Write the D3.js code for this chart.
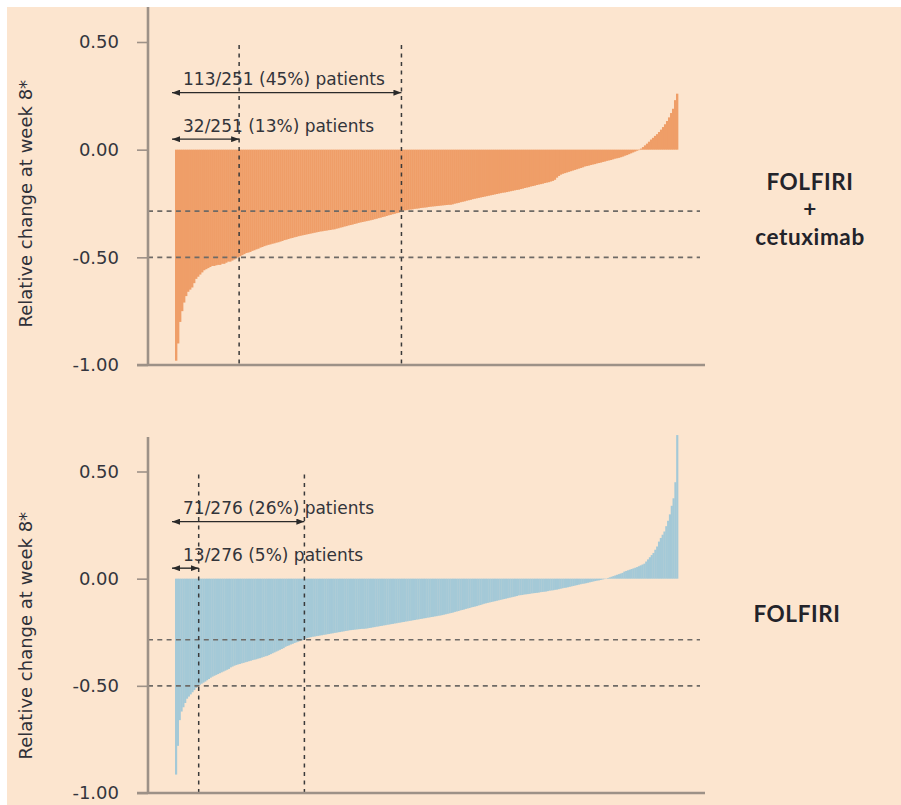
<!DOCTYPE html>
<html>
<head>
<meta charset="utf-8">
<script src="https://cdn.jsdelivr.net/npm/d3@7"></script>
<style>
  html, body { margin: 0; padding: 0; background: #ffffff; }
  svg { display: block; }
</style>
</head>
<body>
<script>
// Relative tumour-size change at week 8, one bar per patient, sorted ascending.
const fcValues = [
  -0.98,-0.90,-0.80,-0.75,-0.71,-0.68,-0.66,-0.65,-0.64,-0.62,
  -0.60,-0.59,-0.58,-0.57,-0.56,-0.555,-0.55,-0.545,-0.54,-0.54,
  -0.537,-0.535,-0.535,-0.53,-0.53,-0.525,-0.52,-0.52,-0.515,-0.51,
  -0.505,-0.50,-0.495,-0.49,-0.485,-0.48,-0.478,-0.475,-0.47,-0.467,
  -0.463,-0.46,-0.455,-0.452,-0.448,-0.445,-0.442,-0.44,-0.437,-0.435,
  -0.432,-0.43,-0.427,-0.424,-0.42,-0.418,-0.415,-0.412,-0.41,-0.407,
  -0.405,-0.402,-0.40,-0.398,-0.396,-0.394,-0.392,-0.39,-0.388,-0.386,
  -0.384,-0.382,-0.38,-0.379,-0.377,-0.376,-0.374,-0.373,-0.371,-0.37,
  -0.367,-0.365,-0.362,-0.36,-0.357,-0.355,-0.352,-0.35,-0.348,-0.345,
  -0.343,-0.34,-0.338,-0.336,-0.334,-0.332,-0.33,-0.328,-0.326,-0.323,
  -0.321,-0.318,-0.316,-0.313,-0.311,-0.308,-0.305,-0.303,-0.300,-0.298,
  -0.295,-0.293,-0.290,-0.284,-0.282,-0.281,-0.279,-0.278,-0.277,-0.275,
  -0.274,-0.273,-0.271,-0.270,-0.269,-0.268,-0.266,-0.265,-0.264,-0.263,
  -0.262,-0.261,-0.26,-0.259,-0.258,-0.257,-0.256,-0.256,-0.254,-0.251,
  -0.249,-0.247,-0.244,-0.242,-0.24,-0.237,-0.235,-0.233,-0.23,-0.228,
  -0.226,-0.224,-0.222,-0.22,-0.218,-0.216,-0.214,-0.212,-0.21,-0.208,
  -0.206,-0.204,-0.202,-0.2,-0.199,-0.197,-0.195,-0.193,-0.191,-0.189,
  -0.187,-0.186,-0.183,-0.181,-0.178,-0.176,-0.174,-0.171,-0.169,-0.167,
  -0.164,-0.162,-0.16,-0.158,-0.155,-0.153,-0.151,-0.148,-0.145,-0.14,
  -0.13,-0.122,-0.116,-0.112,-0.109,-0.106,-0.103,-0.1,-0.097,-0.094,
  -0.091,-0.088,-0.085,-0.082,-0.078,-0.076,-0.074,-0.071,-0.069,-0.067,
  -0.064,-0.062,-0.06,-0.057,-0.055,-0.052,-0.05,-0.048,-0.045,-0.042,
  -0.04,-0.038,-0.035,-0.032,-0.028,-0.025,-0.021,-0.017,-0.013,-0.009,
  -0.005,-0.002,0.005,0.012,0.02,0.028,0.037,0.047,0.055,0.064,
  0.072,0.082,0.093,0.105,0.118,0.133,0.15,0.17,0.19,0.23,
  0.26
];

const fValues = [
  -0.914,-0.78,-0.66,-0.62,-0.60,-0.58,-0.56,-0.55,-0.54,-0.53,
  -0.52,-0.51,-0.50,-0.495,-0.49,-0.485,-0.48,-0.474,-0.468,-0.462,
  -0.457,-0.453,-0.449,-0.445,-0.441,-0.437,-0.433,-0.429,-0.425,-0.421,
  -0.414,-0.41,-0.406,-0.403,-0.400,-0.398,-0.395,-0.393,-0.390,-0.388,
  -0.385,-0.383,-0.380,-0.378,-0.376,-0.373,-0.371,-0.368,-0.365,-0.362,
  -0.36,-0.356,-0.352,-0.348,-0.344,-0.34,-0.336,-0.332,-0.328,-0.324,
  -0.318,-0.314,-0.311,-0.307,-0.304,-0.300,-0.297,-0.294,-0.291,-0.288,
  -0.286,-0.280,-0.277,-0.275,-0.273,-0.271,-0.27,-0.268,-0.267,-0.265,
  -0.264,-0.262,-0.261,-0.259,-0.258,-0.256,-0.255,-0.253,-0.252,-0.25,
  -0.249,-0.247,-0.246,-0.244,-0.243,-0.241,-0.24,-0.239,-0.238,-0.237,
  -0.236,-0.235,-0.234,-0.234,-0.233,-0.232,-0.23,-0.229,-0.227,-0.226,
  -0.224,-0.223,-0.221,-0.22,-0.218,-0.217,-0.215,-0.214,-0.212,-0.211,
  -0.209,-0.208,-0.206,-0.205,-0.203,-0.202,-0.2,-0.199,-0.197,-0.196,
  -0.194,-0.193,-0.191,-0.19,-0.188,-0.187,-0.185,-0.184,-0.182,-0.181,
  -0.179,-0.178,-0.176,-0.175,-0.173,-0.172,-0.17,-0.168,-0.166,-0.164,
  -0.162,-0.16,-0.158,-0.155,-0.153,-0.151,-0.148,-0.146,-0.144,-0.141,
  -0.139,-0.137,-0.134,-0.132,-0.13,-0.128,-0.125,-0.123,-0.12,-0.117,
  -0.115,-0.113,-0.111,-0.109,-0.107,-0.105,-0.103,-0.101,-0.099,-0.097,
  -0.095,-0.093,-0.091,-0.089,-0.087,-0.085,-0.083,-0.081,-0.078,-0.077,
  -0.076,-0.074,-0.073,-0.072,-0.071,-0.069,-0.068,-0.067,-0.066,-0.065,
  -0.063,-0.062,-0.061,-0.06,-0.058,-0.056,-0.055,-0.054,-0.052,-0.051,
  -0.049,-0.047,-0.045,-0.043,-0.042,-0.04,-0.038,-0.036,-0.034,-0.032,
  -0.03,-0.028,-0.026,-0.024,-0.023,-0.021,-0.019,-0.017,-0.015,-0.013,
  -0.011,-0.009,-0.008,-0.006,-0.004,-0.002,-0.001,0.003,0.006,0.009,
  0.012,0.015,0.018,0.021,0.024,0.027,0.033,0.036,0.039,0.042,
  0.045,0.048,0.051,0.054,0.058,0.062,0.066,0.07,0.08,0.09,
  0.1,0.11,0.12,0.135,0.15,0.173,0.19,0.205,0.22,0.245,
  0.27,0.30,0.34,0.375,0.45,0.67
];

// Reference lines: tumour shrinkage cut-offs
const cutoffs = [-0.285, -0.5];
// Patients at or beyond each cut-off
const fcCounts = [113, 32];
const fCounts = [71, 13];
const tickValues = [-1, -0.5, 0, 0.5];
const fcArmLabel = ["FOLFIRI", "+", "cetuximab"];
const fArmLabel = ["FOLFIRI"];
const yAxisTitle = "Relative change at week 8*";

const W = 901, H = 805;
const svg = d3.select("body").append("svg").attr("width", W).attr("height", H);
svg.append("rect").attr("width", W).attr("height", H).attr("fill", "#ffffff");
svg.append("rect").attr("x", 7).attr("y", 7).attr("width", W - 7).attr("height", H - 7).attr("fill", "#fce5cf");

const defs = svg.append("defs");
defs.append("marker")
  .attr("id", "arrowHead")
  .attr("viewBox", "0 0 8 6")
  .attr("refX", 8).attr("refY", 3)
  .attr("markerWidth", 8).attr("markerHeight", 6)
  .attr("markerUnits", "userSpaceOnUse")
  .attr("orient", "auto-start-reverse")
  .append("path").attr("d", "M0,0 L8,3 L0,6 Z").attr("fill", "#2a2a2a");

const regularFont = "'DejaVu Sans', sans-serif";
const boldFont = "Lato, 'DejaVu Sans', sans-serif";
const axisColor = "#9d9187";

function drawPanel(cfg) {
  const g = svg.append("g");
  const n = cfg.values.length;

  const y = d3.scaleLinear().domain([-1, 0.5]).range(cfg.yRange);
  const x = d3.scaleBand().domain(d3.range(n)).range([175, 678]).paddingInner(0).paddingOuter(0);
  const edge = i => (i >= n ? x.range()[1] : x(i));

  // bars
  g.append("g").selectAll("rect").data(cfg.values).join("rect")
    .attr("x", (d, i) => x(i))
    .attr("width", x.bandwidth() + 0.35)
    .attr("y", d => Math.min(y(d), y(0)))
    .attr("height", d => Math.abs(y(d) - y(0)))
    .attr("fill", cfg.color);

  // horizontal cut-off lines
  g.append("g").selectAll("line").data(cutoffs).join("line")
    .attr("x1", 148).attr("x2", 700)
    .attr("y1", d => y(d)).attr("y2", d => y(d))
    .attr("stroke", "#6e6a66").attr("stroke-width", 1.7)
    .attr("stroke-dasharray", "5,4.3");

  // vertical lines at the patient counts
  g.append("g").selectAll("line").data(cfg.counts).join("line")
    .attr("x1", d => edge(d)).attr("x2", d => edge(d))
    .attr("y1", y(0.5) + 3).attr("y2", y(-1))
    .attr("stroke", "#3a3a3a").attr("stroke-width", 1.5)
    .attr("stroke-dasharray", "4,4.5");

  // y axis
  const axis = d3.axisLeft(y).tickValues(tickValues)
    .tickFormat(d3.format(".2f")).tickSize(11).tickPadding(18);
  const ax = g.append("g").attr("transform", "translate(148,0)").call(axis);
  ax.select(".domain").remove();
  ax.selectAll(".tick line").attr("stroke", axisColor).attr("stroke-width", 1.6);
  ax.selectAll(".tick text")
    .attr("font-family", regularFont).attr("font-size", 18)
    .attr("fill", "#34353d");
  ax.selectAll(".tick text").text(d => d3.format(".2f")(d).replace("−", "-"));

  g.append("line")
    .attr("x1", 148).attr("x2", 148)
    .attr("y1", cfg.axisTop).attr("y2", y(-1))
    .attr("stroke", axisColor).attr("stroke-width", 2.6);
  g.append("line")
    .attr("x1", 137).attr("x2", 705)
    .attr("y1", y(-1)).attr("y2", y(-1))
    .attr("stroke", axisColor).attr("stroke-width", 2.6);

  // y axis title
  g.append("text")
    .attr("transform", `translate(31.5,${y(0) + cfg.titleOffset}) rotate(-90)`)
    .attr("text-anchor", "middle")
    .attr("font-family", regularFont).attr("font-size", 18)
    .attr("fill", "#2f3038")
    .text(yAxisTitle);

  // arrows and counts
  const total = n;
  const arrowRows = [
    { count: cfg.counts[0], arrowY: y(0) - 57, textY: y(0) - 64.5 },
    { count: cfg.counts[1], arrowY: y(0) - 10.5, textY: y(0) - 18 }
  ];
  arrowRows.forEach(r => {
    g.append("line")
      .attr("x1", x(0) - 3).attr("x2", edge(r.count))
      .attr("y1", r.arrowY).attr("y2", r.arrowY)
      .attr("stroke", "#2a2a2a").attr("stroke-width", 1.4)
      .attr("marker-start", "url(#arrowHead)")
      .attr("marker-end", "url(#arrowHead)");
    g.append("text")
      .attr("x", 183).attr("y", r.textY)
      .attr("font-family", regularFont).attr("font-size", 17)
      .attr("fill", "#33343a")
      .text(`${r.count}/${total} (${Math.round(100 * r.count / total)}%) patients`);
  });

  // treatment arm label, one line per entry
  g.append("g").selectAll("text").data(cfg.armLabel).join("text")
    .attr("x", cfg.armX)
    .attr("y", (d, i) => cfg.armY + i * 27.3)
    .attr("text-anchor", "middle")
    .attr("font-family", boldFont).attr("font-weight", 700).attr("font-size", 22.5)
    .attr("letter-spacing", 0.6)
    .attr("fill", "#23232a")
    .text(d => d);
}

drawPanel({
  values: fcValues, counts: fcCounts, color: "#ef9e68",
  yRange: [365, 42], axisTop: 7, titleOffset: 54,
  armLabel: fcArmLabel, armX: 810, armY: 190
});

drawPanel({
  values: fValues, counts: fCounts, color: "#a4c9d7",
  yRange: [793, 471.5], axisTop: 437, titleOffset: 57,
  armLabel: fArmLabel, armX: 797, armY: 622
});
</script>
</body>
</html>
